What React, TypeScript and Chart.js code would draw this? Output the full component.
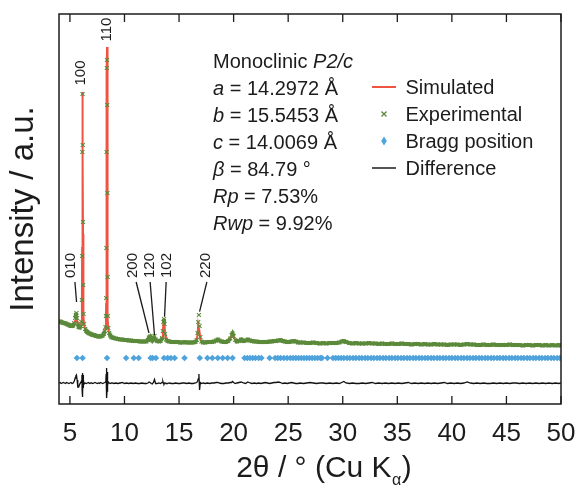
import React, { useEffect, useRef } from 'react';
import { Chart, registerables } from 'chart.js';

Chart.register(...registerables);

// ---------- data (2θ in degrees, intensities in counts) ----------
const TWO_THETA = [
  4.0, 4.1, 4.2, 4.3, 4.4, 4.5, 4.6, 4.7, 4.8, 4.9,
  5.0, 5.1, 5.2, 5.3, 5.4, 5.48, 5.54, 5.6, 5.66, 5.72,
  5.8, 5.9, 6.0, 6.06, 6.1, 6.12, 6.14, 6.16, 6.18, 6.2,
  6.22, 6.25, 6.3, 6.4, 6.5, 6.6, 6.7, 6.8, 6.9, 7.0,
  7.1, 7.2, 7.3, 7.4, 7.5, 7.6, 7.7, 7.8, 7.9, 8.0,
  8.1, 8.2, 8.26, 8.3, 8.32, 8.34, 8.36, 8.38, 8.4, 8.42,
  8.44, 8.46, 8.48, 8.52, 8.6, 8.7, 8.8, 8.9, 9.0, 9.2,
  9.4, 9.6, 9.8, 10.0, 10.2, 10.4, 10.6, 10.8, 11.0, 11.2,
  11.4, 11.6, 11.8, 12.0, 12.15, 12.25, 12.35, 12.45, 12.55, 12.65,
  12.75, 12.85, 13.0, 13.15, 13.3, 13.45, 13.52, 13.57, 13.62, 13.67,
  13.72, 13.8, 13.95, 14.1, 14.3, 14.5, 14.7, 14.9, 15.1, 15.3,
  15.5, 15.7, 15.9, 16.1, 16.3, 16.5, 16.62, 16.7, 16.76, 16.82,
  16.88, 16.95, 17.05, 17.2, 17.4, 17.6, 17.8, 18.0, 18.2, 18.4,
  18.55, 18.7, 18.9, 19.1, 19.3, 19.5, 19.7, 19.82, 19.9, 20.0,
  20.15, 20.3, 20.5, 20.7, 20.9, 21.1, 21.3, 21.5, 21.7, 21.9,
  22.1, 22.3, 22.5, 22.7, 22.9, 23.1, 23.3, 23.5, 23.7, 23.9,
  24.1, 24.3, 24.5, 24.7, 24.9, 25.1, 25.3, 25.5, 25.7, 25.9,
  26.1, 26.4, 26.7, 27.0, 27.3, 27.6, 27.9, 28.2, 28.5, 28.8,
  29.1, 29.4, 29.7, 29.9, 30.1, 30.3, 30.6, 30.9, 31.2, 31.5,
  31.8, 32.1, 32.4, 32.7, 33.0, 33.3, 33.6, 33.9, 34.2, 34.5,
  34.8, 35.1, 35.4, 35.7, 36.0, 36.3, 36.6, 36.9, 37.2, 37.5,
  37.8, 38.1, 38.4, 38.7, 39.0, 39.3, 39.6, 39.9, 40.2, 40.5,
  40.8, 41.1, 41.4, 41.7, 42.0, 42.3, 42.6, 42.9, 43.2, 43.5,
  43.8, 44.1, 44.4, 44.7, 45.0, 45.3, 45.6, 45.9, 46.2, 46.5,
  46.8, 47.1, 47.4, 47.7, 48.0, 48.3, 48.6, 48.9, 49.2, 49.5,
  49.8, 50.0,
];

const EXPERIMENTAL = [
  8200, 8250, 8200, 8150, 8100, 8100, 8050, 8000, 7950, 7900,
  7850, 7800, 7800, 7850, 8100, 8600, 8900, 9100, 8600, 8000,
  7700, 7650, 7800, 8200, 10400, 14800, 25200, 31000, 25900, 18200,
  11900, 9000, 8000, 7500, 7300, 7200, 7100, 7050, 7000, 6950,
  6900, 6900, 6850, 6800, 6800, 6750, 6750, 6750, 6800, 6850,
  7000, 7300, 7700, 8800, 10600, 15600, 25200, 33600, 34400, 29900,
  21100, 12700, 8800, 7600, 7100, 6850, 6700, 6650, 6600, 6550,
  6500, 6450, 6450, 6400, 6400, 6350, 6350, 6300, 6300, 6300,
  6250, 6250, 6250, 6250, 6400, 6650, 6750, 6500, 6350, 6500,
  6800, 6450, 6300, 6250, 6300, 6600, 7300, 8200, 8500, 8000,
  7000, 6450, 6300, 6250, 6200, 6200, 6200, 6200, 6150, 6150,
  6200, 6150, 6150, 6150, 6150, 6200, 6400, 7100, 8200, 8900,
  7800, 6700, 6250, 6150, 6150, 6200, 6200, 6200, 6250, 6350,
  6450, 6350, 6250, 6200, 6200, 6300, 6550, 6900, 7050, 6800,
  6400, 6250, 6300, 6450, 6300, 6350, 6450, 6350, 6300, 6250,
  6250, 6200, 6200, 6200, 6200, 6200, 6250, 6250, 6300, 6300,
  6350, 6400, 6300, 6250, 6200, 6200, 6250, 6300, 6250, 6150,
  6150, 6150, 6100, 6100, 6150, 6100, 6050, 6100, 6050, 6100,
  6100, 6100, 6150, 6250, 6300, 6200, 6100, 6050, 6100, 6050,
  6050, 6050, 6100, 6050, 6050, 6000, 6050, 6000, 6000, 6050,
  6000, 6000, 6050, 6000, 6000, 5950, 6000, 6000, 5950, 6000,
  5950, 5950, 6000, 5950, 5950, 5950, 5900, 5950, 5950, 5950,
  5900, 5950, 6000, 5950, 5950, 5900, 5900, 5950, 5900, 5900,
  5950, 5900, 5900, 5900, 5900, 5950, 5900, 5900, 5900, 5850,
  5900, 5900, 5850, 5900, 5900, 5850, 5900, 5850, 5900, 5850,
  5900, 5850,
];

const SIMULATED = [
  8200, 8200, 8200, 8150, 8100, 8100, 8050, 8000, 7950, 7900,
  7850, 7800, 7800, 7850, 7950, 8300, 8500, 8600, 8300, 7950,
  7750, 7700, 7800, 8100, 10200, 15600, 26000, 31200, 25000, 17000,
  11000, 8800, 7900, 7500, 7300, 7200, 7100, 7050, 7000, 6950,
  6900, 6880, 6850, 6820, 6800, 6780, 6760, 6760, 6800, 6850,
  6980, 7250, 7600, 8600, 10000, 16500, 24600, 33000, 35700, 30400,
  20200, 12400, 8700, 7500, 7050, 6850, 6700, 6650, 6600, 6550,
  6500, 6450, 6420, 6400, 6380, 6350, 6330, 6300, 6300, 6290,
  6270, 6260, 6250, 6260, 6380, 6600, 6700, 6500, 6380, 6450,
  6650, 6450, 6300, 6260, 6300, 6550, 7250, 8200, 8550, 8000,
  6950, 6450, 6300, 6250, 6220, 6200, 6200, 6190, 6170, 6160,
  6170, 6160, 6150, 6150, 6150, 6190, 6380, 7000, 7900, 7900,
  7200, 6550, 6250, 6170, 6160, 6170, 6190, 6200, 6230, 6320,
  6420, 6340, 6250, 6210, 6200, 6280, 6520, 6880, 7000, 6750,
  6400, 6270, 6300, 6420, 6300, 6350, 6430, 6350, 6300, 6260,
  6240, 6210, 6200, 6200, 6200, 6210, 6240, 6260, 6290, 6310,
  6340, 6380, 6300, 6240, 6210, 6210, 6250, 6280, 6240, 6170,
  6150, 6130, 6110, 6110, 6120, 6100, 6080, 6090, 6070, 6090,
  6100, 6110, 6150, 6230, 6280, 6200, 6100, 6070, 6080, 6060,
  6050, 6060, 6070, 6050, 6040, 6030, 6030, 6020, 6010, 6020,
  6010, 6000, 6020, 6000, 5990, 5970, 5980, 5980, 5960, 5970,
  5960, 5950, 5960, 5950, 5940, 5940, 5930, 5940, 5940, 5930,
  5920, 5940, 5970, 5940, 5930, 5910, 5910, 5920, 5900, 5900,
  5910, 5900, 5890, 5890, 5890, 5910, 5890, 5880, 5880, 5870,
  5880, 5880, 5870, 5880, 5870, 5860, 5870, 5860, 5870, 5860,
  5860, 5850,
];

const DIFFERENCE = [
  2100, 2150, 2050, 2100, 2150, 2100, 2050, 2150, 2100, 2050,
  2100, 2150, 2050, 2100, 2300, 2600, 2800, 2900, 2400, 1700,
  1700, 2000, 2150, 2300, 2900, 1300, 700, 3100, 1000, 2900,
  1600, 2400, 2000, 2100, 2050, 2100, 2150, 2050, 2100, 2100,
  2050, 2100, 2150, 2100, 2050, 2100, 2050, 2150, 2100, 2050,
  2100, 2150, 2200, 2500, 3000, 1200, 3600, 600, 1300, 3200,
  1500, 2400, 1900, 2200, 2100, 2050, 2100, 2100, 2050, 2100,
  2050, 2100, 2150, 2050, 2100, 2050, 2100, 2050, 2100, 2050,
  2050, 2100, 2050, 2050, 2100, 2200, 2150, 2050, 2000, 2150,
  2450, 2050, 2050, 2100, 2050, 2150, 2250, 2050, 2000, 2100,
  2100, 2050, 2050, 2100, 2050, 2050, 2100, 2050, 2050, 2100,
  2100, 2050, 2100, 2050, 2050, 2100, 2150, 2300, 2500, 3000,
  1400, 2150, 2050, 2100, 2050, 2100, 2050, 2100, 2100, 2150,
  2150, 2100, 2050, 2050, 2100, 2100, 2150, 2150, 2250, 2150,
  2050, 2100, 2150, 2200, 2100, 2050, 2200, 2100, 2050, 2100,
  2050, 2100, 2050, 2100, 2150, 2100, 2050, 2100, 2150, 2150,
  2200, 2150, 2050, 2100, 2050, 2100, 2150, 2100, 2050, 2050,
  2100, 2050, 2100, 2150, 2100, 2050, 2100, 2100, 2050, 2100,
  2050, 2100, 2050, 2150, 2250, 2100, 2050, 2100, 2050, 2050,
  2100, 2050, 2100, 2150, 2050, 2100, 2050, 2100, 2050, 2100,
  2050, 2100, 2050, 2100, 2150, 2050, 2100, 2050, 2100, 2050,
  2100, 2050, 2100, 2050, 2100, 2150, 2050, 2100, 2050, 2100,
  2050, 2100, 2200, 2100, 2050, 2100, 2050, 2100, 2050, 2050,
  2100, 2050, 2100, 2050, 2100, 2050, 2100, 2100, 2050, 2100,
  2050, 2100, 2050, 2100, 2050, 2100, 2050, 2100, 2050, 2100,
  2050, 2100,
];

const BRAGG_POSITIONS = [
  5.64, 6.16, 8.40, 10.15, 10.85, 11.30, 12.40, 12.58, 12.88, 13.62,
  13.95, 14.25, 14.60, 15.50, 16.90, 17.60, 18.05, 18.55, 19.00, 19.45,
  19.90, 21.00, 21.25, 21.50, 21.75, 22.00, 22.30, 22.55, 23.30, 23.80,
  24.05, 24.30, 24.60, 24.90, 25.20, 25.45, 25.70, 25.95, 26.20, 26.45,
  26.70, 26.95, 27.20, 27.45, 27.70, 27.95, 28.10, 28.60, 29.10, 29.35,
  29.60, 29.85, 30.10, 30.40, 30.65, 30.95, 31.20, 31.50, 31.75, 32.05,
  32.30, 32.60, 32.85, 33.15, 33.40, 33.70, 33.95, 34.25, 34.50, 34.80,
  35.05, 35.35, 35.60, 35.90, 36.15, 36.45, 36.70, 37.00, 37.25, 37.55,
  37.80, 38.10, 38.35, 38.65, 38.90, 39.20, 39.45, 39.75, 40.00, 40.30,
  40.55, 40.85, 41.10, 41.40, 41.65, 41.95, 42.20, 42.50, 42.75, 43.05,
  43.30, 43.60, 43.85, 44.15, 44.40, 44.70, 44.95, 45.25, 45.50, 45.80,
  46.05, 46.35, 46.60, 46.90, 47.15, 47.45, 47.70, 48.00, 48.25, 48.55,
  48.80, 49.10, 49.35, 49.65, 49.90,
];
const BRAGG_LEVEL = 4600;

const X_MIN = 4;
const X_MAX = 50;
const Y_MIN = 0;
const Y_MAX = 39000;
const X_TICKS = [5, 10, 15, 20, 25, 30, 35, 40, 45, 50];
// on steep peak flanks the experimental trace is shown as markers only
const BAND_MAX_STEP = 300;

const HKL_LABELS = ['010', '100', '110', '200', '120', '102', '220'];
const HKL_TEXT_X = [5.09, 6.04, 8.34, 10.75, 12.29, 13.88, 17.5];
const HKL_TEXT_Y = [13850, 33100, 37450, 13850, 13850, 13850, 13850];
const HKL_LINE_FROM: (number[] | null)[] = [[5.46, 12200], null, null, [11.07, 12200], [12.35, 12200], [13.82, 12200], [17.55, 12200]];
const HKL_LINE_TO: (number[] | null)[] = [[5.61, 10200], null, null, [12.24, 7100], [12.75, 6900], [13.67, 8730], [16.88, 9230]];

type Seg = { t: string; i?: boolean };
const INFO_LINES: Seg[][] = [
  [{ t: 'Monoclinic ' }, { t: 'P2/c', i: true }],
  [{ t: 'a', i: true }, { t: ' = 14.2972 Å' }],
  [{ t: 'b', i: true }, { t: ' = 15.5453 Å' }],
  [{ t: 'c', i: true }, { t: ' = 14.0069 Å' }],
  [{ t: 'β', i: true }, { t: ' = 84.79 °' }],
  [{ t: 'Rp', i: true }, { t: ' = 7.53%' }],
  [{ t: 'Rwp', i: true }, { t: ' = 9.92%' }],
];
const LEGEND_LABELS = ['Simulated', 'Experimental', 'Bragg position', 'Difference'];

const X_TITLE = '2θ / ° (Cu K';
const X_TITLE_SUB = 'α';
const Y_TITLE = 'Intensity / a.u.';

// ---------- styles ----------
const FONT = "'Liberation Sans', Arial, Helvetica, sans-serif";
const INK = '#1c1c1c';
const RED = '#ee5440';
const GREEN = '#5b8a3b';
const BLUE = '#4fa3dc';

const overlayPlugin = {
  id: 'overlay',
  afterDatasetsDraw(chart: any) {
    const { ctx, chartArea: a, scales } = chart;
    const xs = scales.x;
    const ys = scales.y;
    ctx.save();

    // frame
    ctx.strokeStyle = INK;
    ctx.lineWidth = 1.5;
    ctx.strokeRect(a.left, a.top, a.right - a.left, a.bottom - a.top);

    // inward ticks top and bottom
    ctx.lineWidth = 1.3;
    X_TICKS.forEach((v) => {
      const px = xs.getPixelForValue(v);
      ctx.beginPath();
      ctx.moveTo(px, a.bottom);
      ctx.lineTo(px, a.bottom - 8);
      ctx.moveTo(px, a.top);
      ctx.lineTo(px, a.top + 8);
      ctx.stroke();
    });

    // hkl leader lines and labels
    ctx.lineWidth = 1.3;
    ctx.fillStyle = INK;
    ctx.font = `15px ${FONT}`;
    HKL_LABELS.forEach((lab, k) => {
      const from = HKL_LINE_FROM[k];
      const to = HKL_LINE_TO[k];
      if (from && to) {
        ctx.beginPath();
        ctx.moveTo(xs.getPixelForValue(from[0]), ys.getPixelForValue(from[1]));
        ctx.lineTo(xs.getPixelForValue(to[0]), ys.getPixelForValue(to[1]));
        ctx.stroke();
      }
      ctx.save();
      ctx.translate(xs.getPixelForValue(HKL_TEXT_X[k]), ys.getPixelForValue(HKL_TEXT_Y[k]));
      ctx.rotate(-Math.PI / 2);
      ctx.textAlign = 'center';
      ctx.textBaseline = 'middle';
      ctx.fillText(lab, 0, 0);
      ctx.restore();
    });

    // info text block
    ctx.textAlign = 'left';
    ctx.textBaseline = 'alphabetic';
    const infoX = 213;
    const infoY0 = 67.5;
    const lineH = 27;
    INFO_LINES.forEach((segs, r) => {
      let cx = infoX;
      const cy = infoY0 + r * lineH;
      segs.forEach((s) => {
        ctx.font = `${s.i ? 'italic ' : ''}20px ${FONT}`;
        ctx.fillText(s.t, cx, cy);
        cx += ctx.measureText(s.t).width;
      });
    });

    // legend
    const lgTextX = 405.5;
    const lgMarkX = 384;
    const lgY0 = 94;
    ctx.font = `20px ${FONT}`;
    LEGEND_LABELS.forEach((lab, r) => {
      const by = lgY0 + r * lineH;
      const my = by - 7;
      ctx.fillStyle = INK;
      ctx.fillText(lab, lgTextX, by);
      if (r === 0) {
        ctx.strokeStyle = RED;
        ctx.lineWidth = 2;
        ctx.beginPath();
        ctx.moveTo(372, my);
        ctx.lineTo(396, my);
        ctx.stroke();
      } else if (r === 1) {
        ctx.strokeStyle = GREEN;
        ctx.lineWidth = 1.3;
        ctx.beginPath();
        ctx.moveTo(lgMarkX - 2.5, my - 2.5);
        ctx.lineTo(lgMarkX + 2.5, my + 2.5);
        ctx.moveTo(lgMarkX - 2.5, my + 2.5);
        ctx.lineTo(lgMarkX + 2.5, my - 2.5);
        ctx.stroke();
      } else if (r === 2) {
        ctx.fillStyle = BLUE;
        ctx.beginPath();
        ctx.moveTo(lgMarkX, my - 4.5);
        ctx.lineTo(lgMarkX + 2.8, my);
        ctx.lineTo(lgMarkX, my + 4.5);
        ctx.lineTo(lgMarkX - 2.8, my);
        ctx.closePath();
        ctx.fill();
      } else {
        ctx.strokeStyle = '#2a2a2a';
        ctx.lineWidth = 1.6;
        ctx.beginPath();
        ctx.moveTo(372, my);
        ctx.lineTo(396, my);
        ctx.stroke();
      }
    });

    // x-axis title with subscript
    ctx.fillStyle = INK;
    ctx.font = `30px ${FONT}`;
    const mainW = ctx.measureText(X_TITLE).width;
    ctx.font = `16px ${FONT}`;
    const subW = ctx.measureText(X_TITLE_SUB).width;
    ctx.font = `30px ${FONT}`;
    const closeW = ctx.measureText(')').width;
    const total = mainW + subW + 1 + closeW;
    let tx = 324 - total / 2;
    const tBase = 477;
    ctx.fillText(X_TITLE, tx, tBase);
    tx += mainW;
    ctx.font = `16px ${FONT}`;
    ctx.fillText(X_TITLE_SUB, tx + 0.5, tBase + 8);
    tx += subW + 1;
    ctx.font = `30px ${FONT}`;
    ctx.fillText(')', tx, tBase);

    ctx.restore();
  },
};

export default function App() {
  const canvasRef = useRef<HTMLCanvasElement | null>(null);

  useEffect(() => {
    document.body.style.margin = '0';
    const canvas = canvasRef.current;
    if (!canvas) return;

    const expPts = TWO_THETA.map((t, i) => ({ x: t, y: EXPERIMENTAL[i] }));
    const simPts = TWO_THETA.map((t, i) => ({ x: t, y: SIMULATED[i] }));
    const diffPts = TWO_THETA.map((t, i) => ({ x: t, y: DIFFERENCE[i] }));
    const braggPts = BRAGG_POSITIONS.map((t) => ({ x: t, y: BRAGG_LEVEL }));

    const chart = new Chart(canvas, {
      type: 'scatter',
      data: {
        datasets: [
          {
            label: 'Experimental',
            data: expPts,
            showLine: true,
            borderColor: GREEN,
            borderWidth: 4,
            tension: 0,
            segment: {
              borderColor: (c: any) =>
                Math.abs(c.p1.parsed.y - c.p0.parsed.y) > BAND_MAX_STEP ? 'rgba(0,0,0,0)' : GREEN,
            },
            pointStyle: 'crossRot',
            pointRadius: 2.8,
            pointHoverRadius: 2.8,
            pointBorderColor: GREEN,
            pointBackgroundColor: GREEN,
            pointBorderWidth: 1.1,
            order: 0,
          },
          {
            label: 'Simulated',
            data: simPts,
            showLine: true,
            borderColor: RED,
            borderWidth: 2,
            pointRadius: 0,
            pointHoverRadius: 0,
            tension: 0,
            order: 3,
          },
          {
            label: 'Bragg position',
            data: braggPts,
            showLine: false,
            pointStyle: 'rectRot',
            pointRadius: 3.3,
            pointHoverRadius: 3.3,
            pointBackgroundColor: BLUE,
            pointBorderColor: BLUE,
            pointBorderWidth: 0,
            order: 1,
          },
          {
            label: 'Difference',
            data: diffPts,
            showLine: true,
            borderColor: '#111111',
            borderWidth: 1.3,
            pointRadius: 0,
            pointHoverRadius: 0,
            tension: 0,
            order: 2,
          },
        ],
      },
      options: {
        animation: false,
        responsive: false,
        events: [],
        layout: { padding: { top: 14, right: 15, bottom: 0, left: 0 } },
        plugins: {
          legend: { display: false },
          tooltip: { enabled: false },
        },
        scales: {
          x: {
            type: 'linear',
            min: X_MIN,
            max: X_MAX,
            grid: { display: false, drawTicks: false },
            border: { display: false },
            ticks: {
              color: INK,
              font: { family: FONT, size: 26 },
              padding: 14,
              maxRotation: 0,
              autoSkip: false,
              callback: (v: any) => String(v),
            },
            afterBuildTicks: (scale: any) => {
              scale.ticks = X_TICKS.map((v) => ({ value: v }));
            },
            afterFit: (scale: any) => {
              scale.height = 84;
              scale.paddingLeft = 0;
              scale.paddingRight = 0;
            },
          },
          y: {
            type: 'linear',
            min: Y_MIN,
            max: Y_MAX,
            grid: { display: false, drawTicks: false },
            border: { display: false },
            ticks: { display: false },
            title: {
              display: true,
              text: Y_TITLE,
              color: INK,
              font: { family: FONT, size: 33 },
              padding: { top: 4, bottom: 0 },
            },
            afterFit: (scale: any) => {
              scale.width = 59;
              scale.paddingTop = 0;
              scale.paddingBottom = 0;
            },
          },
        },
      },
      plugins: [overlayPlugin],
    });

    return () => chart.destroy();
  }, []);

  return (
    <div style={{ width: 576, height: 488, background: '#ffffff' }}>
      <canvas ref={canvasRef} width={576} height={488} />
    </div>
  );
}
